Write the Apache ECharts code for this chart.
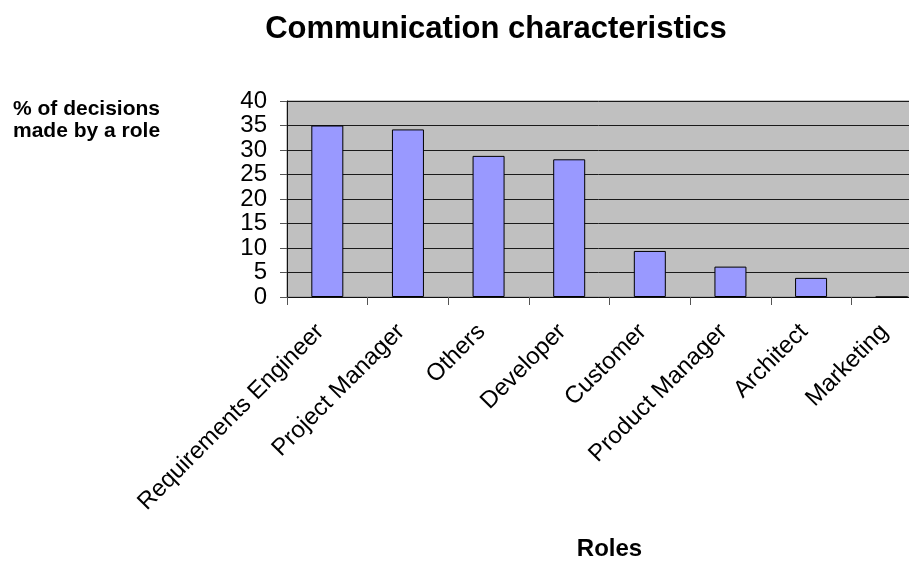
<!DOCTYPE html>
<html>
<head>
<meta charset="utf-8">
<script src="https://cdn.jsdelivr.net/npm/echarts@6/dist/echarts.min.js"></script>
<style>
  html, body { margin: 0; padding: 0; background: #fff; }
  #chart { width: 909px; height: 561px; }
</style>
</head>
<body>
<div id="chart"></div>
<script>
var roles = ['Requirements Engineer', 'Project Manager', 'Others', 'Developer',
    'Customer', 'Product Manager', 'Architect', 'Marketing'];
var decisions = [35, 34.2, 28.8, 28.1, 9.4, 6.2, 3.9, 0];
var yTicks = [0, 5, 10, 15, 20, 25, 30, 35, 40];

var chartDom = document.getElementById('chart');
var myChart = echarts.init(chartDom);
var option;
var font = 'Arial, "Liberation Sans", sans-serif';

option = {
    backgroundColor: '#fff',
    animation: false,
    title: [
        {
            text: 'Communication characteristics',
            left: 491,
            textAlign: 'center',
            top: 9,
            textStyle: { fontFamily: font, fontSize: 31, fontWeight: 'bold', color: '#000' }
        },
        {
            text: '% of decisions\nmade by a role',
            left: 8,
            top: 93,
            textStyle: { fontFamily: font, fontSize: 21, fontWeight: 'bold', color: '#000', lineHeight: 22 }
        }
    ],
    grid: {
        left: 287,
        top: 101,
        width: 645,
        height: 196,
        show: true,
        backgroundColor: '#c0c0c0',
        borderColor: '#8a8a8a',
        borderWidth: 1,
        containLabel: false,
        outerBoundsMode: 'none'
    },
    xAxis: {
        type: 'category',
        data: roles,
        name: 'Roles',
        nameLocation: 'middle',
        nameGap: 240,
        nameTextStyle: { fontFamily: font, fontSize: 24, fontWeight: 'bold', color: '#000' },
        axisLine: { lineStyle: { color: '#111', width: 1 } },
        axisTick: { show: true, length: 8, lineStyle: { color: '#555' } },
        axisLabel: {
            rotate: 45,
            interval: 0,
            margin: 24,
            padding: [0, 10, 0, 0],
            fontFamily: font,
            fontSize: 24,
            color: '#000'
        }
    },
    yAxis: {
        type: 'value',
        min: yTicks[0],
        max: yTicks[yTicks.length - 1],
        interval: 5,
        axisLine: { show: true, lineStyle: { color: '#111', width: 1 } },
        axisTick: { show: true, length: 7, lineStyle: { color: '#555' } },
        axisLabel: {
            margin: 20,
            fontFamily: font,
            fontSize: 24,
            color: '#000'
        },
        splitLine: { show: true, lineStyle: { color: '#1a1a1a', width: 1 } }
    },
    series: [
        {
            name: '% of decisions',
            type: 'bar',
            data: decisions,
            barWidth: 32,
            itemStyle: {
                color: '#9999ff',
                borderColor: '#000',
                borderWidth: 1
            }
        }
    ]
};

option && myChart.setOption(option);
</script>
</body>
</html>
